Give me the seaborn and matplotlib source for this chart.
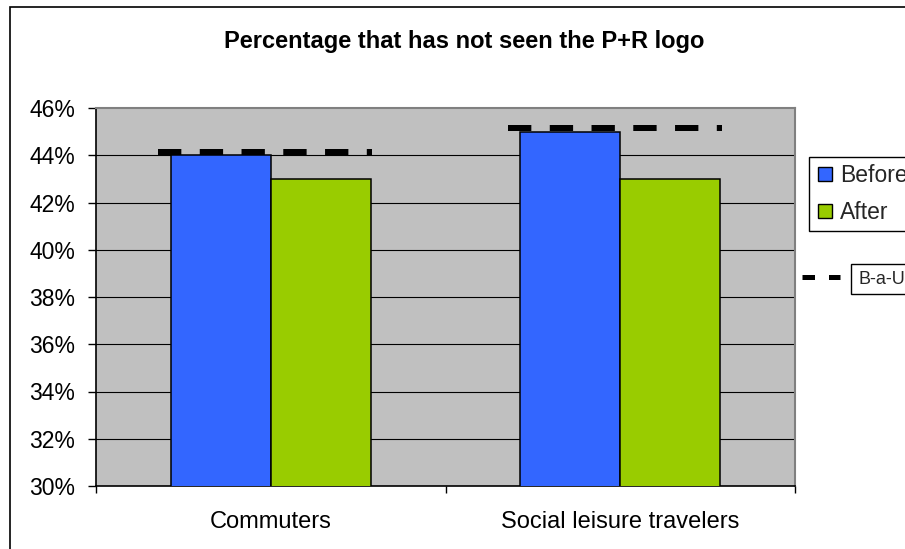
import matplotlib
matplotlib.use("Agg")
import matplotlib.pyplot as plt
from matplotlib.lines import Line2D
from matplotlib.patches import Rectangle
from matplotlib.ticker import FixedLocator, FuncFormatter
import seaborn as sns
import pandas as pd

# ---- data ----
categories = ["Commuters", "Social leisure travelers"]
before = [44, 45]
after = [43, 43]
bau = [44.15, 45.15]
series_names = ["Before", "After"]
y_ticks = [30, 32, 34, 36, 38, 40, 42, 44, 46]

# ---- style ----
BLUE = "#3366FF"
GREEN = "#99CC00"
BG = "#C0C0C0"
FONT = ["Liberation Sans", "DejaVu Sans"]

sns.set_theme(style="white")
plt.rcParams["font.family"] = FONT

W, H = 905, 549
fig = plt.figure(figsize=(W / 100, H / 100), dpi=100)
ax = fig.add_axes([96 / W, 1 - 486 / H, (795 - 96) / W, (486 - 108) / H])
ax.set_facecolor(BG)

df = pd.DataFrame({
    "category": categories * 2,
    "period": [series_names[0]] * len(categories) + [series_names[1]] * len(categories),
    "value": before + after,
})

sns.barplot(data=df, x="category", y="value", hue="period",
            palette=[BLUE, GREEN], width=0.573, gap=0, dodge=True,
            edgecolor="black", linewidth=1.1, saturation=1,
            legend=False, ax=ax, zorder=3, err_kws={"linewidth": 0})

# B-a-U dashed reference lines, one per category
lo, hi = -0.322, 0.29
for i, v in enumerate(bau):
    ax.plot([i + lo, i + hi], [v, v], color="black", lw=4.32,
            dashes=(3.89, 3.07), solid_capstyle="butt", dash_capstyle="butt",
            zorder=4)

ax.set_xlim(-0.5, len(categories) - 0.5)
ax.set_ylim(y_ticks[0], y_ticks[-1])
ax.yaxis.set_major_locator(FixedLocator(y_ticks))
ax.yaxis.set_major_formatter(FuncFormatter(lambda v, p: f"{v:.0f}%"))
ax.set_xlabel("")
ax.set_ylabel("")

for yv in y_ticks[1:-1]:
    ax.axhline(yv, color="black", lw=0.8, zorder=1)

ax.xaxis.set_minor_locator(FixedLocator([k - 0.5 for k in range(len(categories) + 1)]))
ax.tick_params(axis="x", which="major", length=0, pad=18, labelsize=17)
ax.tick_params(axis="x", which="minor", length=5, width=1, color="black",
               direction="out", bottom=True)
ax.tick_params(axis="y", which="major", length=6, width=1, color="black",
               direction="out", pad=9, labelsize=16.5, left=True)
for lab in ax.get_xticklabels() + ax.get_yticklabels():
    lab.set_color("black")

for s in ["top", "right"]:
    ax.spines[s].set_color("#808080")
    ax.spines[s].set_linewidth(1.5)
for s in ["left", "bottom"]:
    ax.spines[s].set_color("black")
    ax.spines[s].set_linewidth(1.2)

# outer chart-area border (partially outside canvas)
fig.patches.append(Rectangle((9.5 / W, -0.2), 1.2, (549 - 7.5) / H + 0.2,
                             transform=fig.transFigure, fill=False,
                             edgecolor="black", lw=1.2))

fig.text(464 / W, 1 - 47.7 / H, "Percentage that has not seen the P+R logo",
         ha="center", va="baseline", fontsize=17, fontweight="bold",
         color="black")

# legend 1: Before / After
handles = [Line2D([], [], marker="s", linestyle="none", markersize=9.4,
                  markerfacecolor=c, markeredgecolor="black", markeredgewidth=1)
           for c in (BLUE, GREEN)]
leg1 = fig.legend(handles, series_names, loc="upper left",
                  bbox_to_anchor=(809 / W, 1 - 157 / H), borderaxespad=0,
                  frameon=True, fancybox=False, edgecolor="black",
                  fontsize=16.5, borderpad=0.3, handlelength=0.76,
                  handletextpad=0.3, labelspacing=0.62, framealpha=1)
leg1.get_frame().set_linewidth(1.0)

# legend 2: B-a-U
bau_handle = Line2D([], [], color="black", lw=3.6, dashes=(2.5, 2.8),
                    dash_capstyle="butt")
leg2 = fig.legend([bau_handle], ["B-a-U"], loc="center left",
                  bbox_to_anchor=(801.7 / W, 1 - 279 / H), borderaxespad=0,
                  frameon=False, fontsize=13, borderpad=0,
                  handlelength=2.12, handletextpad=1.0)
for t in leg2.get_texts():
    t.set_bbox(dict(boxstyle="square,pad=0.38", facecolor="white",
                    edgecolor="black", linewidth=1.0))

fig.savefig("out.png", dpi=100)
